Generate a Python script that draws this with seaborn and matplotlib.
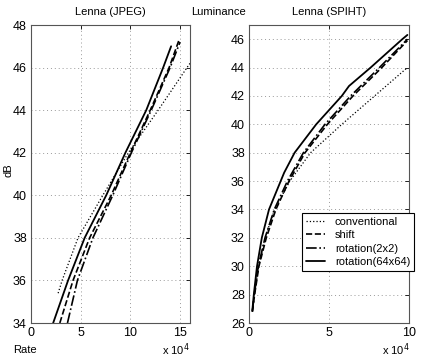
import numpy as np
import pandas as pd
import matplotlib
matplotlib.use("Agg")
import matplotlib.pyplot as plt
import seaborn as sns

sns.set_theme(style="white")
plt.rcParams['font.family'] = ['Liberation Sans', 'DejaVu Sans']
plt.rcParams['text.color'] = 'black'
plt.rcParams['axes.labelcolor'] = 'black'

series_names = ["conventional", "shift", "rotation(2x2)", "rotation(64x64)"]
series_styles = [":", "--", "-.", "-"]
series_widths = [0.9, 1.2, 1.2, 1.3]

# Left panel: Lenna (JPEG), rate in units of 1e4
jpeg_conv_x = [2.73, 3.13, 4.73, 7.23, 9.8, 12.8, 15.7, 16.0]
jpeg_conv_y = [35.4, 36.0, 38.0, 40.0, 42.0, 44.0, 46.0, 46.2]
jpeg_shift_x = [2.9, 4.23, 5.9, 8.07, 10.0, 12.0, 13.9, 14.9]
jpeg_shift_y = [34.0, 36.0, 38.0, 40.0, 42.0, 44.0, 46.0, 47.3]
jpeg_rot2_x = [3.67, 4.67, 6.23, 8.23, 10.1, 12.1, 14.0, 15.0]
jpeg_rot2_y = [34.0, 36.0, 38.0, 40.0, 42.0, 44.0, 46.0, 47.2]
jpeg_rot64_x = [2.23, 3.73, 5.4, 7.57, 9.5, 11.6, 13.3, 14.1]
jpeg_rot64_y = [34.0, 36.0, 38.0, 40.0, 42.0, 44.0, 46.0, 47.0]

# Right panel: Lenna (SPIHT)
spiht_conv_x = [0.21, 0.34, 0.6, 1.0, 1.6, 2.55, 3.85, 5.8, 7.85, 9.9]
spiht_conv_y = [26.8, 28.0, 30.0, 32.0, 34.0, 36.0, 38.0, 40.0, 42.0, 44.0]
spiht_shift_x = [0.21, 0.35, 0.62, 1.08, 1.68, 2.5, 3.5, 4.9, 6.5, 8.3, 9.9]
spiht_shift_y = [26.8, 28.0, 30.0, 32.0, 34.0, 36.0, 38.0, 40.0, 42.0, 44.0, 45.9]
spiht_rot2_x = [0.21, 0.33, 0.58, 1.0, 1.58, 2.4, 3.4, 4.75, 6.35, 8.15, 9.9]
spiht_rot2_y = [26.8, 28.0, 30.0, 32.0, 34.0, 36.0, 38.0, 40.0, 42.0, 44.0, 46.0]
spiht_rot64_x = [0.21, 0.3, 0.5, 0.8, 1.25, 1.98, 2.2, 2.85, 4.2, 5.8, 6.25, 7.6, 9.58, 9.9]
spiht_rot64_y = [26.9, 28.0, 30.0, 32.0, 34.0, 36.0, 36.6, 38.0, 40.0, 42.0, 42.7, 44.0, 46.0, 46.3]

left_xticks = [0, 5, 10, 15]
left_yticks = [34, 36, 38, 40, 42, 44, 46, 48]
right_xticks = [0, 5, 10]
right_yticks = [26, 28, 30, 32, 34, 36, 38, 40, 42, 44, 46]

W, H = 425, 358
fig = plt.figure(figsize=(W / 100, H / 100), dpi=100)
axL = fig.add_axes([31 / W, 1 - 323 / H, (190 - 31) / W, (323 - 25) / H])
axR = fig.add_axes([249 / W, 1 - 323 / H, (409 - 249) / W, (323 - 25) / H])

left_data = [(jpeg_conv_x, jpeg_conv_y), (jpeg_shift_x, jpeg_shift_y),
             (jpeg_rot2_x, jpeg_rot2_y), (jpeg_rot64_x, jpeg_rot64_y)]
right_data = [(spiht_conv_x, spiht_conv_y), (spiht_shift_x, spiht_shift_y),
              (spiht_rot2_x, spiht_rot2_y), (spiht_rot64_x, spiht_rot64_y)]

for ax, data in ((axL, left_data), (axR, right_data)):
    for (xs, ys), name, ls, lw in zip(data, series_names, series_styles, series_widths):
        df = pd.DataFrame({"x": xs, "y": ys})
        sns.lineplot(data=df, x="x", y="y", ax=ax, sort=False, color="black",
                     linestyle=ls, linewidth=lw, label=name if ax is axR else None,
                     legend=False)

for ax, xt, yt, xl, yl in ((axL, left_xticks, left_yticks, (0, 16), (34, 48)),
                           (axR, right_xticks, right_yticks, (0, 10), (26, 47))):
    ax.set_xlim(*xl)
    ax.set_ylim(*yl)
    ax.set_xticks(xt)
    ax.set_yticks(yt)
    ax.set_xlabel("")
    ax.set_ylabel("")
    ax.grid(True, linestyle=(0, (1, 3)), color="#999999", linewidth=0.7)
    ax.tick_params(direction="in", length=3, width=0.6, labelsize=9, colors="black",
                   top=True, right=True, pad=3)
    for s in ax.spines.values():
        s.set_color("#555555")
        s.set_linewidth(0.8)
    ax.set_facecolor("white")

axL.set_title("Lenna (JPEG)", fontsize=8, pad=7, color="black")
axR.set_title("Lenna (SPIHT)", fontsize=8, pad=7, color="black")
fig.text(218 / W, 1 - 12 / H, "Luminance", fontsize=8, ha="center", va="center")
fig.text(8 / W, 1 - 170 / H, "dB", fontsize=8, ha="center", va="center", rotation=90)
fig.text(13 / W, 1 - 350 / H, "Rate", fontsize=8, ha="left", va="center")
fig.text(190 / W, 1 - 350 / H, r"x 10$^4$", fontsize=8, ha="right", va="center")
fig.text(410 / W, 1 - 350 / H, r"x 10$^4$", fontsize=8, ha="right", va="center")

h, l = axR.get_legend_handles_labels()
leg = fig.legend(h, l, loc="upper left", bbox_to_anchor=(302 / W, 1 - 213 / H),
                 fontsize=8, frameon=True, fancybox=False, framealpha=1,
                 edgecolor="black", handlelength=1.7, handletextpad=0.9,
                 borderpad=0.35, labelspacing=0.3, borderaxespad=0)
leg.get_frame().set_linewidth(0.8)

fig.savefig("out.png", dpi=100)
